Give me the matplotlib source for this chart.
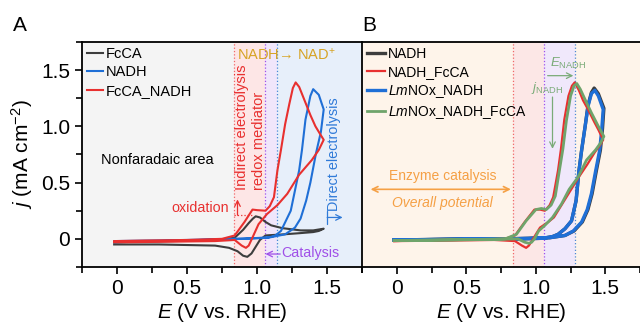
import numpy as np
import matplotlib
matplotlib.use("Agg")
import matplotlib.pyplot as plt
from matplotlib.ticker import MultipleLocator, FuncFormatter

plt.rcParams['font.family'] = ['Liberation Sans', 'DejaVu Sans']
plt.rcParams['mathtext.fontset'] = 'custom'
plt.rcParams['mathtext.rm'] = 'Liberation Sans'
plt.rcParams['mathtext.it'] = 'Liberation Sans:italic'
plt.rcParams['mathtext.bf'] = 'Liberation Sans:bold'

# ---- panel A data (E in V vs RHE, j in mA cm-2), forward then reverse scan
fcca_E = [-0.02, 0.2, 0.4, 0.6, 0.75, 0.84, 0.90, 0.94, 0.97, 0.99, 1.02, 1.06, 1.10, 1.18, 1.31, 1.40, 1.475,
          1.44, 1.40, 1.30, 1.19, 1.06, 1.02, 0.99, 0.96, 0.93, 0.90, 0.86, 0.80, 0.70, 0.5, 0.3, 0.1, -0.02]
fcca_j = [-0.03, -0.025, -0.02, -0.015, -0.005, 0.01, 0.08, 0.14, 0.18, 0.20, 0.19, 0.15, 0.12, 0.095, 0.075, 0.075, 0.09,
          0.07, 0.06, 0.05, 0.04, 0.03, -0.01, -0.07, -0.13, -0.16, -0.15, -0.11, -0.08, -0.06, -0.055, -0.05, -0.05, -0.05]

nadh_E = [-0.02, 0.5, 0.8, 1.0, 1.08, 1.13, 1.17, 1.24, 1.30, 1.32, 1.345, 1.38, 1.40, 1.44, 1.475,
          1.455, 1.42, 1.38, 1.35, 1.31, 1.27, 1.2, 1.1, 0.9, 0.6, 0.3, -0.02]
nadh_j = [-0.02, -0.01, 0.0, 0.005, 0.01, 0.03, 0.07, 0.25, 0.61, 0.79, 1.06, 1.27, 1.33, 1.28, 1.15,
          0.95, 0.76, 0.50, 0.34, 0.18, 0.10, 0.04, 0.015, 0.0, -0.01, -0.02, -0.03]

fccanadh_E = [-0.02, 0.2, 0.5, 0.75, 0.84, 0.91, 0.967, 1.0, 1.06, 1.09, 1.12, 1.145, 1.17, 1.20, 1.23, 1.255, 1.275,
              1.30, 1.345, 1.38, 1.416, 1.45, 1.475,
              1.44, 1.39, 1.30, 1.215, 1.145, 1.07, 1.01, 0.97, 0.94, 0.92, 0.89, 0.84, 0.7, 0.4, 0.1, -0.02]
fccanadh_j = [-0.02, -0.015, -0.01, 0.0, 0.03, 0.15, 0.26, 0.255, 0.25, 0.29, 0.37, 0.61, 0.79, 1.02, 1.2, 1.34, 1.39,
              1.35, 1.21, 1.10, 1.0, 0.93, 0.88,
              0.79, 0.70, 0.57, 0.40, 0.30, 0.22, 0.13, 0.02, -0.06, -0.08, -0.06, -0.01, -0.02, -0.025, -0.03, -0.03]

# ---- panel B data
b_nadh_E = [-0.02, 0.3, 0.6, 0.9, 1.05, 1.12, 1.16, 1.21, 1.257, 1.29, 1.31, 1.33, 1.355, 1.376, 1.40, 1.42, 1.45, 1.49,
            1.48, 1.465, 1.435, 1.405, 1.375, 1.335, 1.275, 1.21, 1.1, 0.8, 0.4, -0.02]
b_nadh_j = [-0.01, -0.005, 0.0, 0.0, 0.005, 0.02, 0.04, 0.09, 0.16, 0.34, 0.6, 0.79, 1.0, 1.19, 1.30, 1.34, 1.29, 1.16,
            0.98, 0.79, 0.6, 0.40, 0.26, 0.15, 0.07, 0.03, 0.01, 0.0, -0.005, -0.01]

b_lm_E = [-0.02, 0.3, 0.6, 0.9, 1.05, 1.12, 1.16, 1.21, 1.257, 1.29, 1.31, 1.33, 1.355, 1.376, 1.40, 1.425, 1.45, 1.485,
          1.475, 1.46, 1.43, 1.40, 1.37, 1.33, 1.27, 1.21, 1.1, 0.8, 0.4, -0.02]
b_lm_j = [-0.01, -0.005, 0.0, 0.0, 0.005, 0.02, 0.04, 0.09, 0.16, 0.34, 0.6, 0.79, 1.0, 1.18, 1.29, 1.32, 1.27, 1.15,
          0.98, 0.79, 0.6, 0.40, 0.26, 0.15, 0.07, 0.03, 0.01, 0.0, -0.005, -0.01]

b_fcca_E = [-0.02, 0.3, 0.6, 0.777, 0.85, 0.92, 0.99, 1.03, 1.065, 1.10, 1.125, 1.16, 1.18, 1.205, 1.235, 1.26, 1.28,
            1.31, 1.34, 1.376, 1.42, 1.45, 1.485,
            1.455, 1.425, 1.37, 1.31, 1.25, 1.185, 1.13, 1.09, 1.03, 0.98, 0.95, 0.93, 0.90, 0.85, 0.7, 0.4, -0.02]
b_fcca_j = [-0.02, -0.01, -0.005, 0.0, 0.03, 0.15, 0.26, 0.26, 0.25, 0.30, 0.37, 0.61, 0.79, 1.06, 1.27, 1.36, 1.39,
            1.32, 1.23, 1.15, 1.04, 0.97, 0.88,
            0.82, 0.77, 0.66, 0.55, 0.43, 0.30, 0.19, 0.15, 0.10, 0.0, -0.06, -0.08, -0.06, -0.02, -0.01, -0.015, -0.02]

b_lmfcca_E = [-0.02, 0.3, 0.6, 0.78, 0.86, 0.93, 1.00, 1.04, 1.075, 1.11, 1.14, 1.17, 1.195, 1.22, 1.25, 1.275, 1.295,
              1.32, 1.35, 1.40, 1.45, 1.49,
              1.465, 1.43, 1.365, 1.305, 1.24, 1.185, 1.12, 1.065, 1.02, 0.99, 0.97, 0.95, 0.92, 0.87, 0.7, 0.4, -0.02]
b_lmfcca_j = [-0.015, -0.01, -0.005, 0.0, 0.04, 0.16, 0.26, 0.27, 0.26, 0.30, 0.38, 0.61, 0.80, 1.05, 1.27, 1.36, 1.38,
              1.33, 1.25, 1.12, 1.0, 0.91,
              0.85, 0.79, 0.70, 0.55, 0.44, 0.31, 0.19, 0.12, 0.07, 0.0, -0.03, -0.04, -0.03, 0.0, -0.005, -0.01, -0.015]

# region boundaries (V)
a_red, a_purple, a_blue = 0.837, 1.057, 1.143
b_red, b_purple, b_blue = 0.836, 1.057, 1.28

GRAY, BLUE, RED, GREEN = '#3d3d3d', '#1f6fd6', '#e8302f', '#6fa46b'
ORANGE, GOLD, PURPLE, TBLUE, TGREEN = '#f5a045', '#d6a323', '#a050e8', '#2f7ad8', '#7aab78'

fig = plt.figure(figsize=(6.4, 3.3), dpi=100)
axA = fig.add_axes([0.128, 0.191, 0.438, 0.682])
axB = fig.add_axes([0.566, 0.191, 0.434, 0.682])

fmt = FuncFormatter(lambda v, _: '0' if abs(v) < 1e-9 else f'{v:.1f}')
for ax in (axA, axB):
    ax.set_xlim(-0.25, 1.75)
    ax.set_ylim(-0.25, 1.75)
    ax.xaxis.set_major_locator(MultipleLocator(0.5))
    ax.xaxis.set_minor_locator(MultipleLocator(0.25))
    ax.yaxis.set_major_locator(MultipleLocator(0.5))
    ax.yaxis.set_minor_locator(MultipleLocator(0.25))
    ax.xaxis.set_major_formatter(fmt)
    ax.yaxis.set_major_formatter(fmt)
    ax.tick_params(which='both', direction='out', width=1.2, labelsize=15)
    ax.tick_params(which='major', length=5)
    ax.tick_params(which='minor', length=4)
    for s in ax.spines.values():
        s.set_linewidth(1.3)
    ax.set_xlabel('$E$ (V vs. RHE)', fontsize=15, labelpad=2)

axA.spines['right'].set_visible(False)
axB.spines['right'].set_visible(False)
axB.tick_params(axis='y', which='both', left=False, labelleft=False)
axA.set_ylabel('$j$ (mA cm$^{\u22122}$)', fontsize=15, labelpad=4)

# ---- panel A background regions
axA.axvspan(-0.25, a_red, color='#f4f4f4', lw=0, zorder=0)
axA.axvspan(a_red, a_purple, color='#fde6e6', lw=0, zorder=0)
axA.axvspan(a_purple, a_blue, color='#f0e6fb', lw=0, zorder=0)
axA.axvspan(a_blue, 1.75, color='#e7effa', lw=0, zorder=0)
axA.axvline(a_red, color='#f06868', ls=':', lw=0.9)
axA.axvline(a_purple, color=PURPLE, ls=':', lw=0.9)
axA.axvline(a_blue, color='#4a86d6', ls=':', lw=0.9)

axA.plot(fcca_E, fcca_j, color=GRAY, lw=1.5, label='FcCA', zorder=3)
axA.plot(nadh_E, nadh_j, color=BLUE, lw=1.5, label='NADH', zorder=3)
axA.plot(fccanadh_E, fccanadh_j, color=RED, lw=1.5, label='FcCA_NADH', zorder=4)

axA.legend(loc='upper left', frameon=False, fontsize=10.5, handlelength=1.1, handletextpad=0.2,
           labelspacing=0.3, borderaxespad=0.15, borderpad=0.2)

axA.text(0.29, 0.70, 'Nonfaradaic area', fontsize=10.5, ha='center', va='center')
axA.text(0.855, 1.64, 'NADH\u2192 NAD$^{+}$', fontsize=10.5, color=GOLD, ha='left', va='center')
axA.text(0.89, 0.43, 'Indirect electrolysis', fontsize=10.5, color=RED, rotation=90, ha='center', va='bottom')
axA.text(1.014, 0.43, 'redox mediator', fontsize=10.5, color=RED, rotation=90, ha='center', va='bottom')
axA.text(0.80, 0.27, 'oxidation', fontsize=10.3, color=RED, ha='right', va='center')
axA.plot([a_red, 0.97], [0.21, 0.21], color=RED, ls=':', lw=0.9)
axA.annotate('', xy=(0.86, 0.35), xytext=(0.86, 0.21),
             arrowprops=dict(arrowstyle='->', color=RED, lw=0.9, shrinkA=0, shrinkB=0))
axA.annotate('', xy=(1.06, -0.135), xytext=(1.165, -0.135),
             arrowprops=dict(arrowstyle='->', color=PURPLE, lw=0.9, shrinkA=0, shrinkB=0))
axA.text(1.17, -0.13, 'Catalysis', fontsize=10.3, color=PURPLE, ha='left', va='center')
axA.text(1.55, 0.25, 'Direct electrolysis', fontsize=10.4, color=TBLUE, rotation=90, ha='center', va='bottom')
axA.annotate('', xy=(1.61, 0.19), xytext=(1.50, 0.19),
             arrowprops=dict(arrowstyle=']->, widthA=0.45, lengthA=0', color=TBLUE, lw=0.9, shrinkA=0, shrinkB=0))

# ---- panel B background regions
axB.axvspan(-0.25, b_red, color='#fef4ea', lw=0, zorder=0)
axB.axvspan(b_red, b_purple, color='#fce7e6', lw=0, zorder=0)
axB.axvspan(b_purple, b_blue, color='#f0e8fb', lw=0, zorder=0)
axB.axvspan(b_blue, 1.75, color='#fef4ea', lw=0, zorder=0)
axB.axvline(b_red, color='#f06868', ls=':', lw=0.9)
axB.axvline(b_purple, color=PURPLE, ls=':', lw=0.9)
axB.axvline(b_blue, color='#4a86d6', ls=':', lw=0.9)

axB.plot(b_nadh_E, b_nadh_j, color=GRAY, lw=2.4, label='NADH', zorder=3)
axB.plot(b_fcca_E, b_fcca_j, color=RED, lw=1.6, label='NADH_FcCA', zorder=4)
axB.plot(b_lm_E, b_lm_j, color=BLUE, lw=2.4, label='$\\mathit{Lm}$NOx_NADH', zorder=3)
axB.plot(b_lmfcca_E, b_lmfcca_j, color=GREEN, lw=2.0, label='$\\mathit{Lm}$NOx_NADH_FcCA', zorder=5)

axB.legend(loc='upper left', frameon=False, fontsize=10, handlelength=1.3, handletextpad=0.2,
           labelspacing=0.3, borderaxespad=0.15, borderpad=0.2)

axB.text(1.23, 1.56, '$E_{\\mathrm{NADH}}$', fontsize=9.5, color=TGREEN, ha='center', va='center')
axB.annotate('', xy=(1.27, 1.45), xytext=(1.085, 1.45),
             arrowprops=dict(arrowstyle='->', color=TGREEN, lw=0.9, shrinkA=0, shrinkB=0))
axB.text(1.08, 1.34, '$j_{\\mathrm{NADH}}$', fontsize=9.5, color=TGREEN, ha='center', va='center')
axB.annotate('', xy=(1.12, 0.80), xytext=(1.12, 1.26),
             arrowprops=dict(arrowstyle='->', color=TGREEN, lw=0.9, shrinkA=0, shrinkB=0))
axB.text(0.33, 0.56, 'Enzyme catalysis', fontsize=10, color=ORANGE, ha='center', va='center')
axB.annotate('', xy=(0.82, 0.44), xytext=(-0.19, 0.44),
             arrowprops=dict(arrowstyle='<->', color=ORANGE, lw=1.2, shrinkA=0, shrinkB=0))
axB.text(0.33, 0.32, 'Overall potential', fontsize=10, color=ORANGE, style='italic', ha='center', va='center')

fig.text(0.031, 0.924, 'A', fontsize=15, ha='center', va='center')
fig.text(0.577, 0.924, 'B', fontsize=15, ha='center', va='center')

fig.savefig('out.png', dpi=100)
